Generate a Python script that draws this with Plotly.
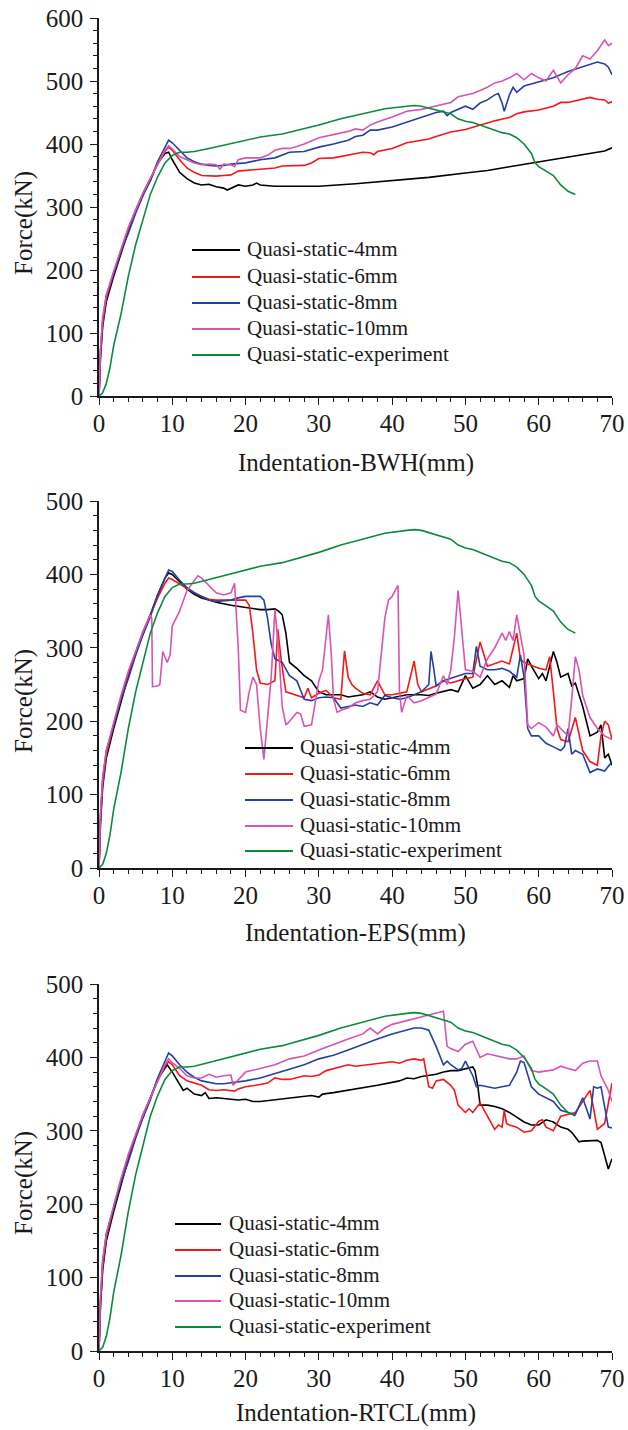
import plotly.graph_objects as go

# ---------------- data ----------------
series_names = ["Quasi-static-4mm", "Quasi-static-6mm", "Quasi-static-8mm",
                "Quasi-static-10mm", "Quasi-static-experiment"]
x_ticks = [0, 10, 20, 30, 40, 50, 60, 70]
y_ticks_bwh = [0, 100, 200, 300, 400, 500, 600]
y_ticks_other = [0, 100, 200, 300, 400, 500]

# experiment (same in all panels)
exp_x = [0,0.5,1,1.5,2,3,4,5,6,7, 8,9,10,11,12,13,15,17,20,22,
         25,28,30,33,36,39,42,43,44,45, 46,47,48,49,50,51,52,53,54,55,
         56,57,58,59,59.5,60,61,62,63,64, 65]
exp_y = [0,5,20,45,80,130,190,240,280,320, 348,370,382,387,387,388,393,398,405,411,
         416,424,430,440,448,456,460,461,460,457, 455,452,448,440,436,434,430,426,421,418,
         416,410,400,385,370,364,357,350,335,325, 320]

# ---- BWH ----
bwh4_x = [0,0.2,0.5,1,2,3,4,5,6,7,8,9,9.5,10,11,12,13,14,15,16,17,17.5,18,19,20,21,21.5,22,24,26,28,30,35,40,45,50,53,56,60,65,69,70]
bwh4_y = [0,60,110,150,190,228,262,292,320,342,370,385,387,375,355,345,338,335,336,332,330,327,330,335,333,335,338,335,333,333,332,333,337,342,347,354,358,364,372,381,389,394]

bwh6_x = [0,0.2,0.5,1,2,3,4,5,6,7, 8,9,9.5,10,11,12,13,14,15,16, 17,18,19,20,22,24,25,26,28,29,
          30,32,34,36,37,37.5,38,40,42,44, 45,46,47,48,50,52,54,56,57,58, 60,62,63,64,66,67,68,69,69.5,70]
bwh6_y = [0,65,115,155,195,232,265,295,322,345, 368,388,395,390,375,362,355,350,349,349, 350,351,357,358,360,362,365,365,366,370,
          377,378,383,387,386,383,388,393,402,406, 408,412,416,419,423,430,437,442,448,451, 454,460,466,466,472,474,471,470,465,467]

bwh8_x = [0,0.2,0.5,1,2,3,4,5,6,7, 8,9,9.5,10,11,12,13,14,15,16, 17,18,20,22,24,25,26,28,30,32,
          34,35,36,37,38,40,42,44,45,46, 47,47.5,48,49,50,51,52,53,54,54.5, 55,55.3,56,56.5,57,58,60,62,64,66,
          67,68,69,69.5,70]
bwh8_y = [0,70,120,160,195,230,258,290,318,342, 372,395,406,402,390,378,372,368,366,365, 366,368,370,375,378,382,387,388,395,400,
          406,412,414,422,422,427,435,443,447,450, 452,445,450,455,460,455,465,470,478,480, 465,452,478,490,482,492,498,505,515,522,
          526,530,527,522,510]

bwh10_x = [0,0.2,0.5,1,2,3,4,5,6,7, 8,9,9.5,10,11,12,13,14,15,16, 16.5,17,18,18.5,19,20,22,23,24,25,
           26,27,28,30,32,34,35,36,37,38, 40,42,44,45,46,47,48,49,50,51, 52,53,54,55,56,57,58,59,60,61,
           62,63,64,65,66,67,68,69,69.5,70]
bwh10_y = [0,75,125,160,198,235,268,295,322,345, 368,390,397,392,380,375,370,367,368,367, 360,368,367,364,375,378,378,382,390,393,
           393,396,400,410,415,420,424,422,430,435, 443,452,455,458,460,463,466,475,478,480, 485,490,497,500,505,512,502,512,505,500,
           517,497,510,520,540,535,548,565,556,560]

# ---- EPS ----
eps4_x = [0,0.2,0.5,1,2,3,4,5,6,7, 8,9,9.5,10,11,12,13,14,15,16, 18,20,22,23,24,24.5,25,25.5,26,27,
          28,29,30,31,32,33,34,35,36,37, 38,39,40,42,44,45,46,48,49,50, 51,52,53,54,55,56,56.5,57,58,58.5,
          59,60,60.5,61,62,62.5,63,64,64.5,65, 66,67,68,68.5,69,69.5,70]
eps4_y = [0,60,110,150,190,228,262,292,320,345, 372,395,402,400,390,380,373,368,365,362, 358,355,352,352,353,350,345,320,280,272,
          262,255,240,236,236,236,233,235,236,240, 233,230,232,236,236,235,238,243,240,262, 245,250,262,250,255,246,262,255,258,285,
          275,258,265,255,295,280,260,265,248,252, 220,180,185,195,150,155,140]

eps6_x = [0,0.2,0.5,1,2,3,4,5,6,7, 8,9,9.5,10,11,12,13,14,15,16, 18,19,20,20.5,21,21.5,22,23,24,24.4,
          24.9,25.5,27,28,28.5,29,30,31,32,33, 33.5,34,34.5,35,36,37,38,39,40,42, 43,43.5,44,46,47,48,50,51,52,52.5,
          53,55,56,57,57.5,58,60,61,61.5,62, 62.5,63,64,65,65.5,66,67,68,68.5,69, 69.5,70]
eps6_y = [0,65,115,155,195,232,265,295,322,345, 368,388,395,393,387,380,375,370,366,365, 365,366,365,358,320,270,252,250,255,325,
          280,240,235,232,245,232,238,242,232,230, 296,260,250,245,238,236,255,236,236,240, 282,250,240,248,255,252,258,260,308,290,
          275,282,278,320,285,280,272,270,288,240, 190,175,172,205,180,160,145,140,180,200, 195,175]

eps8_x = [0,0.2,0.5,1,2,3,4,5,6,7, 8,9,9.5,10,11,12,13,14,15,16, 18,19,20,21,22,22.5,23,23.5,24,25,
          26,27,28,29,30,31,32,33,34,35, 36,37,38,39,40,41,42,43,44,45, 45.3,45.7,46,47,48,49,50,51,51.5,52,
          53,54,55,56,57,57.5,58,58.5,59,60, 61,62,63,63.5,64,64.5,65,66,67,68, 69,70]
eps8_y = [0,70,120,160,195,230,258,290,318,342, 372,395,406,404,392,382,375,370,365,363, 365,368,370,370,370,365,340,305,285,280,
          262,255,230,228,232,233,232,218,220,222, 220,225,222,235,232,230,232,236,240,250, 295,270,248,255,258,262,265,265,302,275,
          270,270,272,268,260,290,260,190,180,180, 170,165,160,165,190,155,160,155,130,135, 132,145]

eps10_x = [0,0.2,0.5,1,2,3,4,5,6,7, 7.2,7.3,8,8.3,8.7,9.3,9.7,10,10.5,11, 12,13,13.5,14,15,16,17,18,18.5,19,
           19.3,20,20.5,21,21.5,22,22.5,23,23.5,24, 24.5,25,25.5,26,27,27.5,28,29,30,30.5, 31,31.3,31.7,32,32.5,33,34,35,36,37,
           38,39,39.5,40,40.5,40.8,41,41.3,42,43, 44,45,46,47,47.5,48,48.5,49,49.5,50, 51,52,53,54,55,55.5,56,56.5,57,57.5,
           58,58.5,59,60,61,62,62.5,63,64,64.5, 65,65.5,66,67,67.5,68,69,70]
eps10_y = [0,75,125,160,198,235,268,295,322,345, 340,247,248,250,295,280,290,330,340,350, 378,392,398,395,385,375,372,375,388,300,
           215,212,240,260,250,190,148,200,260,352, 300,220,195,200,212,210,193,195,255,270, 320,345,290,230,212,215,218,225,228,230,
           240,340,365,370,380,385,240,212,235,225, 228,232,237,262,250,270,315,378,320,270, 268,260,285,300,320,310,322,310,345,320,
           290,195,190,198,192,180,195,190,180,230, 288,270,235,205,198,190,180,175]

# ---- RTCL ----
rtcl4_x = [0,0.2,0.5,1,2,3,4,5,6,7, 8,9,9.3,10,11,11.5,12,13,14,14.5, 15,16,17,18,19,20,21,22,24,26,
           28,29,30,30.5,32,34,36,38,40,41, 42,43,44,46,47,48,49,50,51,51.3, 51.7,52,53,54,55,56,57,58,59,60,
           61,62,63,64,64.5,65,65.5,66,67,68, 68.5,69,69.5,70]
rtcl4_y = [0,60,110,150,190,228,262,292,320,345, 370,385,390,380,362,355,358,350,348,352, 344,345,344,343,342,343,340,340,342,344,
           346,348,346,350,352,355,358,362,366,368, 372,371,374,377,380,382,382,385,387,382, 360,335,335,333,330,325,318,312,308,308,
           315,312,305,302,298,292,285,286,287,287, 284,265,248,262]

rtcl6_x = [0,0.2,0.5,1,2,3,4,5,6,7, 8,9,9.5,10,11,12,13,14,15,16, 17,18,18.5,19,20,22,23,24,25,26,
           27,28,29,30,31,32,33,34,35,36, 37,38,40,41,42,43,44,44.3,44.6,45, 45.5,46,47,48,48.5,49,50,50.5,51,52,
           53,53.5,54,54.5,55,55.3,55.6,56,57,58, 59,60,60.5,61,62,63,64,65,66,67, 67.5,68,69,69.5,70]
rtcl6_y = [0,65,115,155,195,232,265,295,322,345, 368,388,394,390,375,368,365,362,356,355, 356,355,354,357,360,363,365,372,370,370,
           373,375,374,376,382,385,387,390,388,389, 390,392,394,392,396,398,396,398,380,360, 358,368,370,362,355,335,325,330,325,338,
           320,310,302,308,305,328,310,308,305,298, 300,313,315,305,300,320,322,325,340,355, 330,302,310,335,365]

rtcl8_x = [0,0.2,0.5,1,2,3,4,5,6,7, 8,9,9.5,10,11,12,13,14,15,16, 17,18,19,20,22,24,26,28,30,32,
           34,36,38,40,42,43,44,45,46,47, 47.5,48,49,49.5,50,51,51.5,52,53,54, 55,56,57,57.5,58,59,60,61,62,63,
           64,65,66,66.5,67,67.5,68,68.5,69,69.5, 70]
rtcl8_y = [0,70,120,160,195,230,258,290,318,342, 372,395,406,402,390,380,373,368,366,364, 364,365,366,368,372,378,385,390,398,403,
           410,418,425,432,438,440,440,437,415,390, 395,390,383,385,395,375,360,362,360,358, 360,362,380,395,393,360,350,345,340,328,
           325,322,345,330,316,360,358,360,330,305, 304]

rtcl10_x = [0,0.2,0.5,1,2,3,4,5,6,7, 8,9,9.5,10,11,12,13,14,15,16, 17,18,18.3,19,20,22,24,26,28,30,
            32,34,36,37,38,39,40,42,44,46, 47,47.5,48,49,50,51,52,53,54,55, 56,57,58,59,60,62,63,64,65,66,
            67,68,68.5,69,69.5,70]
rtcl10_y = [0,75,125,160,198,235,268,295,322,345, 368,390,398,393,385,375,372,372,377,373, 375,376,362,370,380,385,390,398,402,410,
            418,425,432,440,432,440,445,450,455,460, 463,415,412,408,418,422,400,405,403,400, 398,398,402,382,380,383,388,385,382,392,
            395,395,375,365,355,340]

x_titles = ["Indentation-BWH(mm)", "Indentation-EPS(mm)", "Indentation-RTCL(mm)"]
y_title = "Force(kN)"

# ---------------- styling ----------------
W, H = 628, 1430
colors = ["#000000", "#f01818", "#2441a0", "#d655b0", "#0b8a3c"]
FONT = "Liberation Serif"
TXT = "#1a1a1a"


def py(px):  # pixel row -> paper fraction
    return 1 - px / H


def pxx(px):
    return px / W


x_dom = [pxx(99), pxx(612)]
panels = [
    dict(y0=396, y1=18, ymax=600, yt=y_ticks_bwh,
         data=[(bwh4_x, bwh4_y), (bwh6_x, bwh6_y), (bwh8_x, bwh8_y), (bwh10_x, bwh10_y), (exp_x, exp_y)],
         leg_line=(192, 240), leg_text=245, leg_rows=[250, 277, 303, 329, 355], ytc=223, xtc=463),
    dict(y0=868, y1=501, ymax=500, yt=y_ticks_other,
         data=[(eps4_x, eps4_y), (eps6_x, eps6_y), (eps8_x, eps8_y), (eps10_x, eps10_y), (exp_x, exp_y)],
         leg_line=(245, 293), leg_text=298, leg_rows=[748, 774, 800, 826, 851], ytc=701, xtc=933),
    dict(y0=1351, y1=984, ymax=500, yt=y_ticks_other,
         data=[(rtcl4_x, rtcl4_y), (rtcl6_x, rtcl6_y), (rtcl8_x, rtcl8_y), (rtcl10_x, rtcl10_y), (exp_x, exp_y)],
         leg_line=(175, 221), leg_text=227, leg_rows=[1224, 1250, 1276, 1301, 1327], ytc=1183, xtc=1413),
]

fig = go.Figure()
layout = dict(width=W, height=H, autosize=False, template="none", showlegend=False,
              margin=dict(l=0, r=0, t=0, b=0, pad=0), paper_bgcolor="white", plot_bgcolor="white",
              font=dict(family=FONT, color=TXT))
annotations = []
shapes = []

for i, p in enumerate(panels):
    k = "" if i == 0 else str(i + 1)
    xa, ya = "x" + k, "y" + k
    for j, (xs, ys) in enumerate(p["data"]):
        fig.add_trace(go.Scatter(x=xs, y=ys, mode="lines", name=series_names[j],
                                 line=dict(color=colors[j], width=1.6),
                                 xaxis=xa, yaxis=ya, showlegend=False))
        # legend entry (key line + label)
        ry = py(p["leg_rows"][j])
        shapes.append(dict(type="line", xref="paper", yref="paper",
                           x0=pxx(p["leg_line"][0]), x1=pxx(p["leg_line"][1]), y0=ry, y1=ry,
                           line=dict(color=colors[j], width=2)))
        annotations.append(dict(text=series_names[j], x=pxx(p["leg_text"]), y=py(p["leg_rows"][j] - 1),
                                xref="paper", yref="paper", xanchor="left", yanchor="middle",
                                showarrow=False, font=dict(family=FONT, size=21, color=TXT)))
    axis_common = dict(showline=True, linecolor=TXT, linewidth=1.5, ticks="outside",
                       ticklen=7, tickwidth=1.4, tickcolor=TXT, showgrid=False, zeroline=False,
                       mirror=False, automargin=False,
                       tickfont=dict(family=FONT, size=25, color=TXT))
    layout["xaxis" + k] = dict(domain=x_dom, anchor=ya, range=[0, 70], tickmode="array",
                               tickvals=x_ticks, ticktext=[str(v) for v in x_ticks],
                               ticklabelstandoff=-3,
                               minor=dict(ticks="outside", ticklen=4, tickwidth=1.2, dtick=2,
                                          tick0=0, tickcolor=TXT, showgrid=False),
                               **axis_common)
    layout["yaxis" + k] = dict(domain=[py(p["y0"]), py(p["y1"])], anchor=xa, range=[0, p["ymax"]],
                               tickmode="array", tickvals=p["yt"], ticktext=[str(v) for v in p["yt"]],
                               ticklabelstandoff=2,
                               minor=dict(ticks="outside", ticklen=4, tickwidth=1.2, dtick=20,
                                          tick0=0, tickcolor=TXT, showgrid=False),
                               **axis_common)
    annotations.append(dict(text=x_titles[i], x=(x_dom[0] + x_dom[1]) / 2, y=py(p["xtc"]),
                            xref="paper", yref="paper", xanchor="center", yanchor="middle",
                            showarrow=False, font=dict(family=FONT, size=25, color=TXT)))
    annotations.append(dict(text=y_title, x=pxx(24), y=py(p["ytc"]), textangle=-90,
                            xref="paper", yref="paper", xanchor="center", yanchor="middle",
                            showarrow=False, font=dict(family=FONT, size=25, color=TXT)))

layout["annotations"] = annotations
layout["shapes"] = shapes
fig.update_layout(**layout)
fig.write_html("out.html", config={"displayModeBar": False},
               post_script="document.body.style.margin='0px';document.body.style.overflow='hidden';")
